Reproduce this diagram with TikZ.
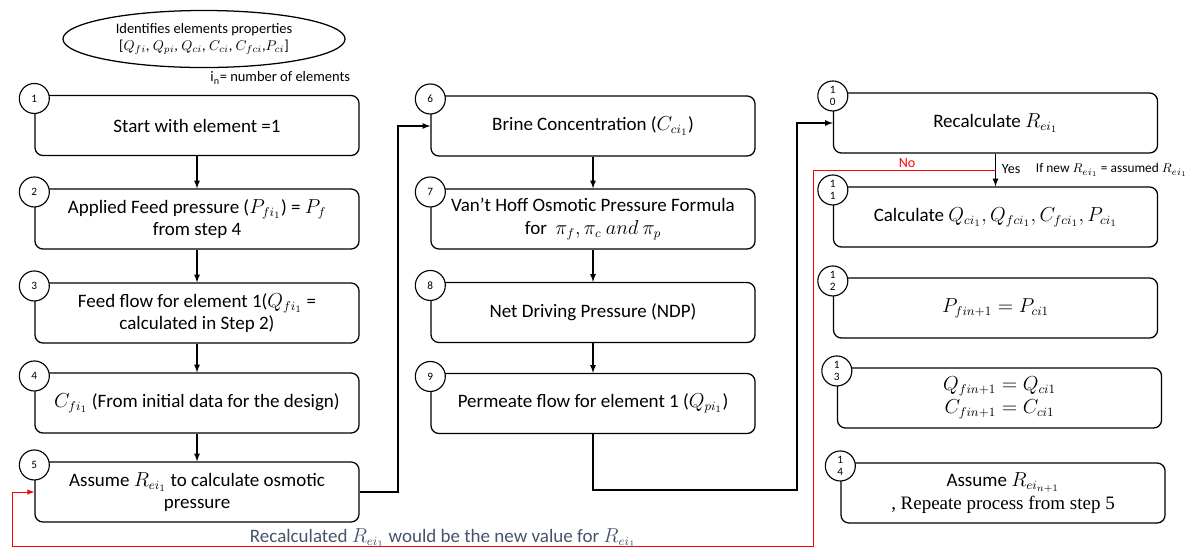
\documentclass[tikz,border=0pt]{standalone}
\usepackage{fontspec}
\setmainfont{Carlito}
\newfontfamily\serif{Liberation Serif}
\usetikzlibrary{positioning, shapes}

\definecolor{notegray}{HTML}{44546A}

\tikzset{
  stepbox/.style={rectangle, rounded corners=0.2cm, minimum width=8.1cm, minimum height=1.5cm, align=center, draw, line width=0.9pt, font=\fontsize{13.5}{16}\selectfont},
  stepnum/.style={circle, draw, fill=white, minimum size=0.75cm, inner sep=0pt, align=center, line width=0.8pt, font=\fontsize{8}{8.5}\selectfont},
  flow/.style={line width=0.9pt, -latex},
  redflow/.style={red, line width=0.7pt, -latex},
}

\begin{document}
\begin{tikzpicture}[x=0.025cm, y=-0.025cm]
\useasboundingbox (0,0) rectangle (1187,548);

\node[ellipse, draw, line width=0.9pt, minimum width=7.05cm, minimum height=1.3cm, align=center, font=\fontsize{10.3}{12}\selectfont] (props) at (204,39)
  {Identifies elements properties\\{[}$Q_{fi}$, $Q_{pi}$, $Q_{ci}$, $C_{ci}$, $C_{fci}$,$P_{ci}${]}};
\node[anchor=east, font=\fontsize{10.3}{12}\selectfont] (count) at (355,78) {i\textsubscript{n}= number of elements};

% first column
\node[stepbox] (b1) at (197,125.5) {Start with element =1};
\node[stepbox] (b2) at (197,219) {Applied Feed pressure ($P_{fi_1}$) = $P_f$\\from step 4};
\node[stepbox] (b3) at (197,313) {Feed flow for element 1($Q_{fi_1}$ =\\calculated in Step 2)};
\node[stepbox] (b4) at (197,403) {$C_{fi_1}$ (From initial data for the design)};
\node[stepbox] (b5) at (197,492) {Assume $R_{ei_1}$ to calculate osmotic\\pressure};

% second column
\node[stepbox] (b6) at (593,126) {Brine Concentration ($C_{ci_1}$)};
\node[stepbox] (b7) at (593,219) {Van't Hoff Osmotic Pressure Formula\\for \ $\pi_f,\pi_c$ $and$ $\pi_p$};
\node[stepbox] (b8) at (593,312.5) {Net Driving Pressure (NDP)};
\node[stepbox] (b9) at (593,403.5) {Permeate flow for element 1 ($Q_{pi_1}$)};

% third column
\node[stepbox] (b10) at (995.5,123) {Recalculate $R_{ei_1}$};
\node[stepbox] (b11) at (995.5,217) {Calculate $Q_{ci_1}, Q_{fci_1}, C_{fci_1}, P_{ci_1}$};
\node[stepbox] (b12) at (995.5,308) {$P_{fin+1} = P_{ci1}$};
\node[stepbox] (b13) at (999.5,398) {$Q_{fin+1} = Q_{ci1}$\\$C_{fin+1} = C_{ci1}$};
\node[stepbox] (b14) at (1003,493) {Assume $R_{ei_{n+1}}$\\{\serif , Repeate process from step 5}};

% step numbers
\foreach \b/\n in {b1/1, b2/2, b3/3, b4/4, b5/5, b6/6, b7/7, b8/8, b9/9,
                   b10/1\\0, b11/1\\1, b12/1\\2, b13/1\\3, b14/1\\4}
  \node[stepnum] at ([yshift=-0.09cm]\b.north west) {\n};

\draw[flow] (b1) -- (b2);
\draw[flow] (b2) -- (b3);
\draw[flow] (b3) -- (b4);
\draw[flow] (b4) -- (b5);
\draw[flow] (b6) -- (b7);
\draw[flow] (b7) -- (b8);
\draw[flow] (b8) -- (b9);
\draw[flow] (b10) -- (b11);

\coordinate (j1) at (398,492);
\coordinate (j2) at (797,490);
\draw[flow] (b5.east) -- (j1) |- (b6.west);
\draw[flow] (b9.south) |- (j2) |- (b10.west);

% loop back when the new value differs
\coordinate (check) at (995.5,170);
\coordinate (r1) at (813,546);
\coordinate (r2) at (12,492);
\draw[redflow] (check) -| (r1) -| (r2) -- (b5.west);

\node[red, font=\fontsize{10}{12}\selectfont] (no) at (907,163) {No};
\node[anchor=west, font=\fontsize{10}{12}\selectfont] (yes) at (997,169) {Yes};
\node[anchor=west, font=\fontsize{9.5}{11}\selectfont] (cond) at (1031,170) {If new $R_{ei_1}$ = assumed $R_{ei_1}$};
\node[notegray, font=\fontsize{13.5}{15}\selectfont] (note) at (443,538) {Recalculated $R_{ei_1}$ would be the new value for $R_{ei_1}$};
\end{tikzpicture}
\end{document}
